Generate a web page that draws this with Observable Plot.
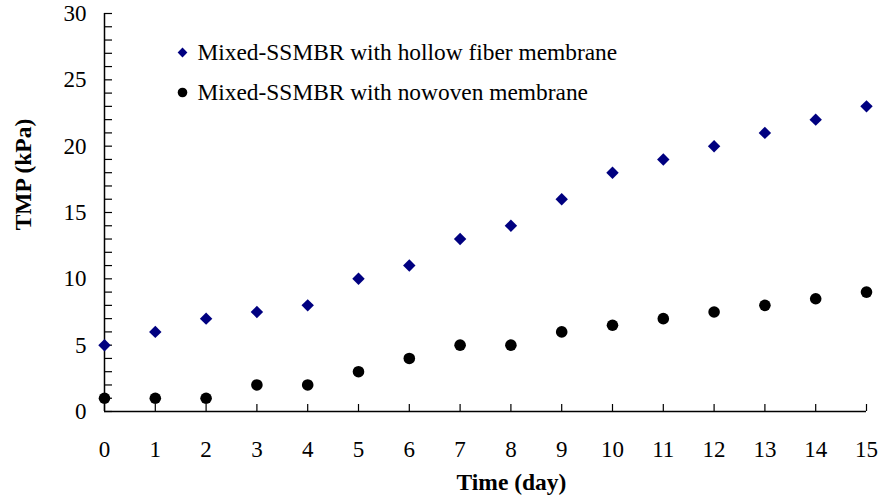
<!DOCTYPE html>
<html>
<head>
<meta charset="utf-8">
<script src="https://cdn.jsdelivr.net/npm/d3@7"></script>
<script src="https://cdn.jsdelivr.net/npm/@observablehq/plot@0.6"></script>
<style>
  html, body { margin: 0; padding: 0; background: #fff; }
  #chart svg, #chart svg text { font-family: "Liberation Serif", "Times New Roman", serif !important; }
</style>
</head>
<body>
<div id="chart"></div>
<script>
const days = [0,1,2,3,4,5,6,7,8,9,10,11,12,13,14,15];
const hollowFiber = [5,6,7,7.5,8,10,11,13,14,16,18,19,20,21,22,23];
const nonwoven = [1,1,1,2,2,3,4,5,5,6,6.5,7,7.5,8,8.5,9];
const seriesNames = ["Mixed-SSMBR with hollow fiber membrane", "Mixed-SSMBR with nowoven membrane"];
const xTitle = "Time (day)";
const yTitle = "TMP (kPa)";
const xTickValues = [0,1,2,3,4,5,6,7,8,9,10,11,12,13,14,15];
const yTickLabels = [0,5,10,15,20,25,30];
const yMinorTicks = d3.range(0, 31, 1);

const W = 880, H = 496, mL = 104, mR = 14, mT = 13, mB = 85;
const plotW = W - mL - mR, plotH = H - mT - mB;

const hf = days.map((d, i) => ({day: d, tmp: hollowFiber[i]}));
const nw = days.map((d, i) => ({day: d, tmp: nonwoven[i]}));

const chart = Plot.plot({
  width: W, height: H,
  marginLeft: mL, marginRight: mR, marginTop: mT, marginBottom: mB,
  style: {fontSize: "23px", color: "#000", background: "#fff"},
  x: {domain: [0, 15]},
  y: {domain: [0, 30]},
  marks: [
    Plot.axisX({ticks: xTickValues, tickSize: 0, tickPadding: 29, tickFormat: d => String(d), fontSize: 23, label: null}),
    Plot.axisY({ticks: yTickLabels, tickSize: 0, tickPadding: 18, tickFormat: d => String(d), fontSize: 23, label: null}),
    Plot.text([xTitle], {frameAnchor: "bottom", dx: 26, dy: 71, text: d => d, lineAnchor: "middle", textAnchor: "middle", fontSize: 23.5, fontWeight: "bold", fill: "#000"}),
    Plot.text([yTitle], {frameAnchor: "left", dx: -81, dy: -38, rotate: -90, text: d => d, lineAnchor: "middle", textAnchor: "middle", fontSize: 23.5, fontWeight: "bold", fill: "#000"}),
    Plot.tickX(xTickValues, {x: d => d, insetTop: plotH - 7, stroke: "#000", strokeWidth: 1.2}),
    Plot.tickY(yMinorTicks, {y: d => d, insetRight: plotW - 8, stroke: "#000", strokeWidth: 1.2}),
    Plot.ruleX([0], {stroke: "#000", strokeWidth: 1.5}),
    Plot.ruleY([0], {stroke: "#000", strokeWidth: 1.5}),
    Plot.dot(hf, {x: "day", y: "tmp", symbol: "diamond2", r: 5.6, fill: "#000080", stroke: "none"}),
    Plot.dot(nw, {x: "day", y: "tmp", symbol: "circle", r: 5.8, fill: "#000", stroke: "none"}),
    // legend
    Plot.dot([seriesNames[0]], {frameAnchor: "top-left", dx: 78, dy: 39, symbol: "diamond2", r: 4.4, fill: "#000080", stroke: "none"}),
    Plot.dot([seriesNames[1]], {frameAnchor: "top-left", dx: 78, dy: 79, symbol: "circle", r: 4.8, fill: "#000", stroke: "none"}),
    Plot.text([seriesNames[0]], {frameAnchor: "top-left", dx: 93, dy: 39, text: d => d, textAnchor: "start", lineAnchor: "middle", fontSize: 23.4, fill: "#000"}),
    Plot.text([seriesNames[1]], {frameAnchor: "top-left", dx: 93, dy: 79, text: d => d, textAnchor: "start", lineAnchor: "middle", fontSize: 23.4, fill: "#000"})
  ]
});
document.getElementById("chart").appendChild(chart);
</script>
</body>
</html>
